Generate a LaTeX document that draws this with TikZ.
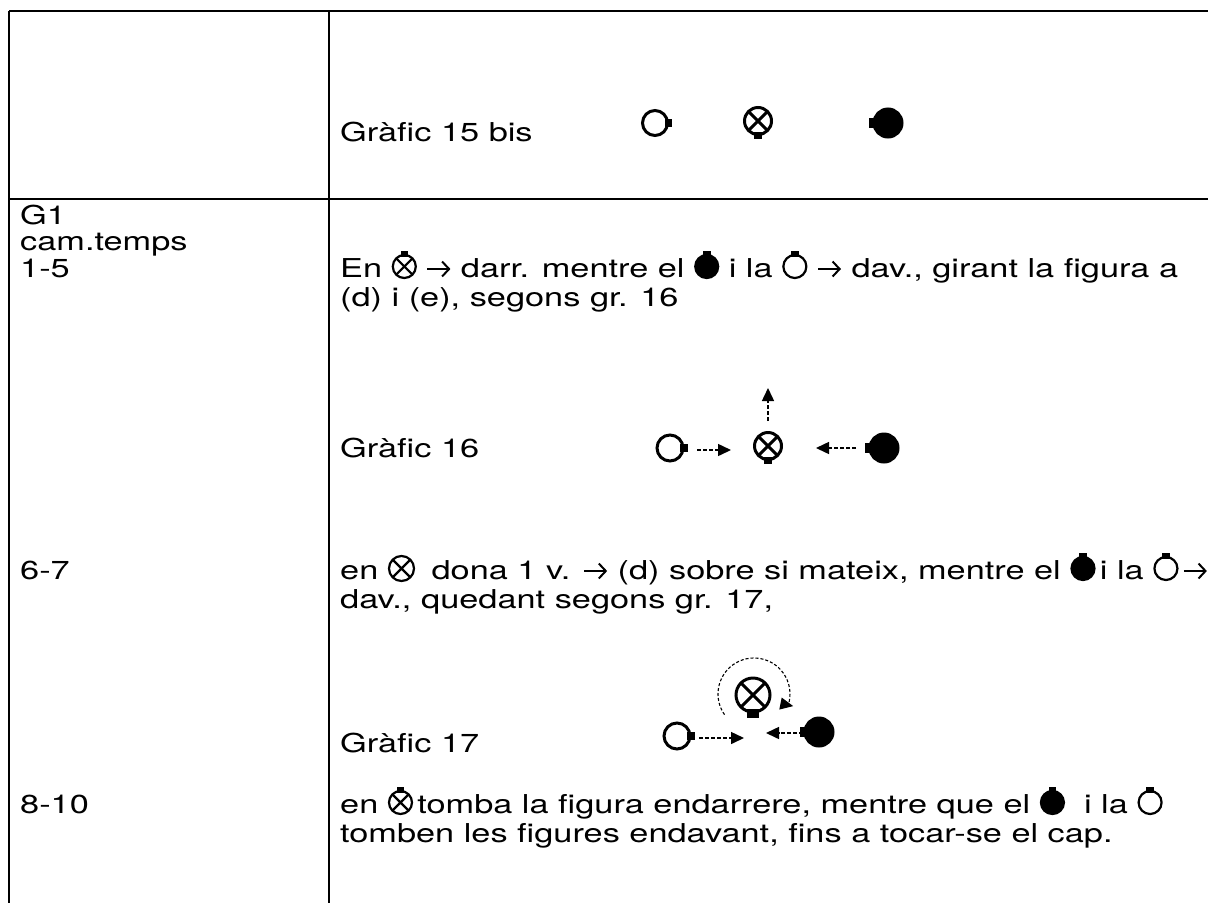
\documentclass[tikz,border=0pt]{standalone}
\usepackage{fontspec}
\setmainfont{TeX Gyre Heros}[FakeStretch=1.32]
\usetikzlibrary{arrows.meta}
\newcommand\nubpath{\fill (0.8,-0.33) rectangle (1.35,0.33);}
\tikzset{
  dopen/.pic={\draw[fill=white] (0,0) circle (1); \nubpath},
  dfull/.pic={\fill (0,0) circle (1); \draw (0,0) circle (1); \nubpath},
  dcross/.pic={\draw (0,0) circle (1); \draw (45:1)--(225:1) (135:1)--(-45:1); \nubpath},
  dcrossn/.pic={\draw (0,0) circle (1); \draw (45:1)--(225:1) (135:1)--(-45:1);},
  txt/.style={anchor=base west, inner sep=0pt, font=\fontsize{26pt}{28pt}\selectfont},
  grid/.style={line width=2.2pt},
  darrow/.style={line width=1.5pt, dash pattern=on 4pt off 2pt, -{Triangle[length=13pt,width=12pt]}},
  fig/.style={line width=3pt},
}
\newcommand\iX{\tikz[baseline=0pt,x=1pt,y=1pt]\pic[scale=11.5,rotate=90,line width=2.2pt] at (0,10.5) {dcross};}
\newcommand\iXb{\tikz[baseline=0pt,x=1pt,y=1pt]\pic[scale=12.5,line width=2.2pt] at (0,10.5) {dcrossn};}
\newcommand\iF{\tikz[baseline=0pt,x=1pt,y=1pt]\pic[scale=11.5,rotate=90,line width=2.2pt] at (0,10.5) {dfull};}
\newcommand\iO{\tikz[baseline=0pt,x=1pt,y=1pt]\pic[scale=11.5,rotate=90,line width=2.2pt] at (0,10.5) {dopen};}
\newcommand\arr{\tikz[baseline=0pt,x=1pt,y=1pt]\draw[line width=2pt,-{Straight Barb[length=7pt,width=15pt]}] (0,8)--(23,8);}
\begin{document}
\begin{tikzpicture}[x=1pt,y=-1pt]
\useasboundingbox (0,0) rectangle (1208,903);
% table rules
\draw[grid] (9,11) -- (1208,11);
\draw[grid] (9,199) -- (1208,199);
\draw[grid] (9,11) -- (9,903);
\draw[grid] (329,11) -- (329,903);
% left column
\node[txt] (g1) at (20,224) {G1};
\node[txt] (cam) at (20,250) {cam.temps};
\node[txt] (t15) at (20,277) {1-5};
\node[txt] (t67) at (20,579) {6-7};
\node[txt] (t810) at (20,813) {8-10};
% graphic 15 bis
\node[txt] (g15) at (340,141) {Gràfic 15 bis};
\pic[fig,scale=12.5] (a1) at (655,123) {dopen};
\pic[fig,scale=13.5,rotate=-90] (b1) at (758,121) {dcross};
\pic[fig,scale=14,rotate=180] (c1) at (888,123) {dfull};
% text 1-5
\node[txt] (l1) at (340,277) {En \iX{} \arr{} darr. mentre el \iF{} i la \iO{} \arr{} dav., girant la figura a};
\node[txt] (l2) at (340,306) {(d) i (e), segons gr. 16};
% graphic 16
\node[txt] (g16) at (340,457) {Gràfic 16};
\pic[fig,scale=13] (a2) at (670,448) {dopen};
\pic[fig,scale=13.5,rotate=-90] (b2) at (768,446) {dcross};
\pic[fig,scale=14,rotate=180] (c2) at (884,448) {dfull};
\coordinate (a2s) at (697,450);
\coordinate (a2e) at (731,450);
\coordinate (b2s) at (768,421);
\coordinate (b2e) at (768,388);
\coordinate (c2s) at (856,448);
\coordinate (c2e) at (816,448);
\draw[darrow] (a2s) -- (a2e);
\draw[darrow] (b2s) -- (b2e);
\draw[darrow] (c2s) -- (c2e);
% text 6-7
\node[txt] (l3) at (340,579) {en \iXb{}\hspace{7pt} dona 1 v. \arr{} (d) sobre si mateix, mentre el \iF\,i la \iO\,\arr};
\node[txt] (l4) at (340,608) {dav., quedant segons gr. 17,};
% graphic 17
\node[txt] (g17) at (340,752) {Gràfic 17};
\pic[fig,scale=13] (a3) at (677,736) {dopen};
\pic[fig,scale=17,rotate=-90] (b3) at (753,695) {dcross};
\pic[fig,scale=14,rotate=180] (c3) at (819,732) {dfull};
\coordinate (a3s) at (699,738);
\coordinate (a3e) at (744,738);
\coordinate (c3s) at (803,733);
\coordinate (c3e) at (766,733);
\coordinate (arcc) at (754,694);
\draw[darrow] (a3s) -- (a3e);
\draw[darrow] (c3s) -- (c3e);
\draw[line width=1.1pt, dash pattern=on 3pt off 2pt, -{Triangle[length=13pt,width=12pt]}] (arcc) ++(145:36) arc[start angle=145, end angle=378, radius=36] -- ++(5,1);
% text 8-10
\node[txt] (l5) at (340,813) {en \iX{}\,tomba la figura endarrere, mentre que el \iF{}\ \ i la \iO};
\node[txt] (l6) at (340,842) {tomben les figures endavant, fins a tocar-se el cap.};
\end{tikzpicture}
\end{document}
